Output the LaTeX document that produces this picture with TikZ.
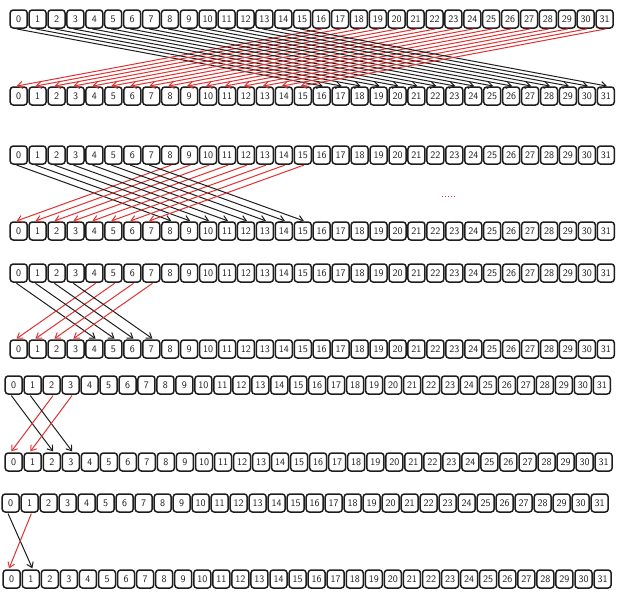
\documentclass[tikz,border=0pt]{standalone}
\usepackage{tikz}
\usetikzlibrary{arrows.meta}

\definecolor{ink}{HTML}{1E1E1E}
\definecolor{redink}{HTML}{E03131}

\begin{document}
\begin{tikzpicture}[
        x=1pt, y=-1pt,
        cell/.style={draw=ink, line width=1.5pt, rounded corners=3pt,
            minimum width=17pt, minimum height=18pt, inner sep=0pt,
            text=ink, font=\sffamily\fontsize{10}{10}\selectfont},
        fwd/.style={ink, line width=1pt, shorten <=1pt, shorten >=1pt,
            -{Straight Barb[length=5pt,width=7pt]}},
        bwd/.style={redink, line width=1pt, shorten <=1pt, shorten >=1pt,
            -{Straight Barb[length=5pt,width=7pt]}},
    ]
        \useasboundingbox (0,0) rectangle (624,595);

        % rows of cells: row / y / left edge / pitch
        \foreach \r/\y/\xa/\p in {1/19/10/18.9, 2/96/10/18.94, 3/155/10/18.94,
                4/231/10/18.94, 5/273/10/18.94, 6/349/10/18.94, 7/385/5/18.97,
                8/462/5/19.03, 9/503/2/19.0, 10/579/3/19.06}
            \foreach \i in {0,...,31}
                \node[cell] (r\r-\i) at ({\xa + 8.7 + \i*\p}, \y) {\i};

        % exchange between a row and the one below: top / bottom / half
        \foreach \t/\b/\h in {1/2/16, 3/4/8, 5/6/4, 7/8/2, 9/10/1} {
            \pgfmathtruncatemacro\last{\h-1}
            \foreach \i in {0,...,\last} {
                \pgfmathtruncatemacro\j{\i+\h}
                \draw[fwd] ([xshift=-3pt]r\t-\i.south) -- ([xshift=2pt]r\b-\j.north);
                \draw[bwd] ([xshift=2pt]r\t-\j.south) -- ([xshift=-3pt]r\b-\i.north);
            }
        }

        \draw[redink, dotted, line width=1pt] (442,196) -- (456,196);
    \end{tikzpicture}
\end{document}
